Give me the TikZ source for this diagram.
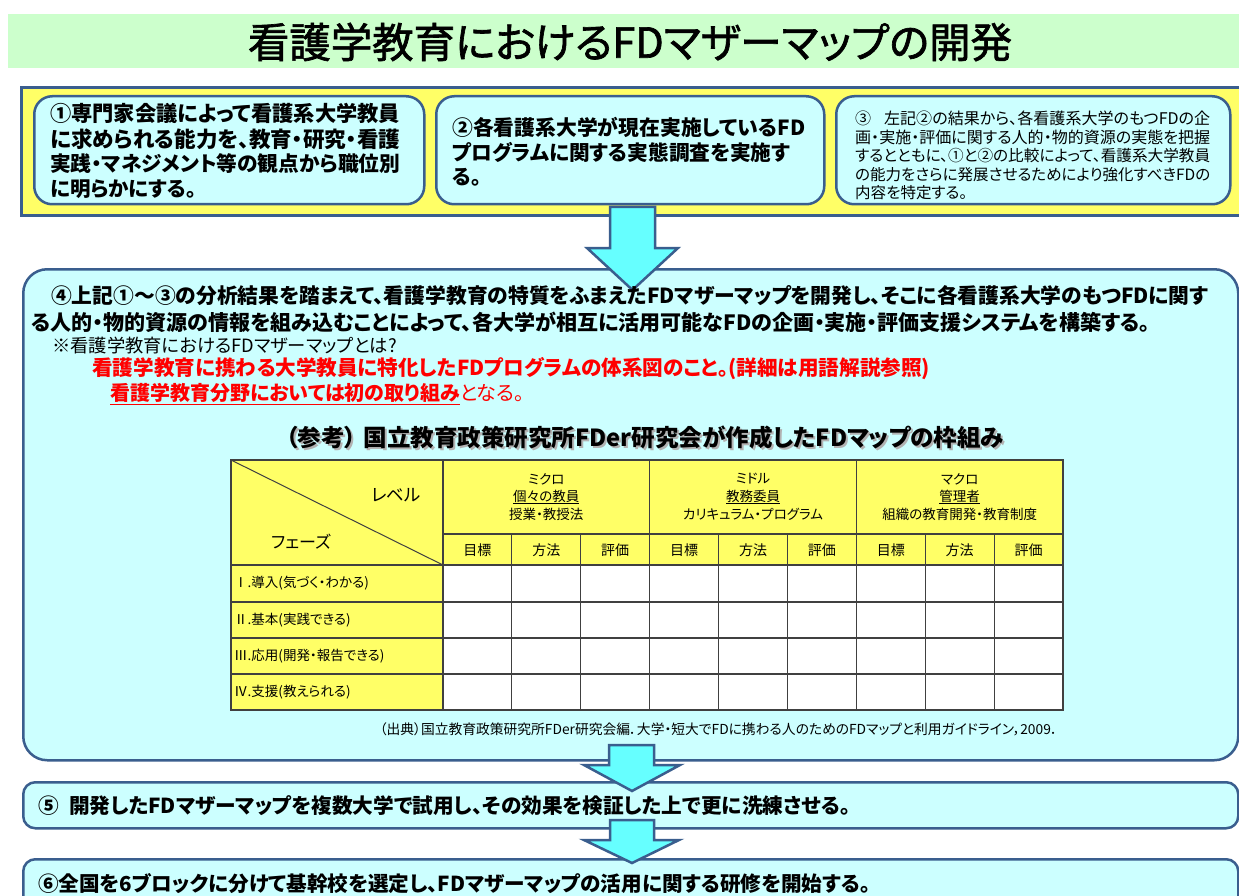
\documentclass[tikz,border=0pt]{standalone}
\usepackage{graphicx}
\usepackage{fontspec}
\setmainfont{Noto Sans CJK JP}[RawFeature=+palt]
\newfontfamily\ttlfont{Noto Sans CJK JP}[RawFeature=+palt, FakeBold=1.6]
\definecolor{bannerg}{HTML}{CCFFCC}
\definecolor{yel}{HTML}{FFFF66}
\definecolor{boxc}{HTML}{CCFFFF}
\definecolor{arrc}{HTML}{66FFFF}
\definecolor{bord}{HTML}{3A5E8E}
\definecolor{gridc}{HTML}{404040}
\definecolor{redt}{HTML}{FF0000}
\newcommand\fitto[2]{\resizebox{#1pt}{!}{#2}}
\tikzset{
  jb/.style={draw=bord, line width=2.5pt, fill=boxc, anchor=north west, inner sep=0pt},
  barrow/.style={draw=bord, line width=2.5pt, fill=arrc, line join=miter},
  ln/.style={anchor=west, inner sep=0pt},
  bigb/.style={ln, font=\fontsize{20.5pt}{25pt}\selectfont\bfseries},
  smr/.style={ln, font=\fontsize{15.5pt}{18pt}\selectfont},
  tabt/.style={inner sep=0pt, font=\fontsize{13.5pt}{16pt}\selectfont},
  gridl/.style={draw=gridc, line width=1.2pt},
}
\begin{document}
\begin{tikzpicture}[x=1pt,y=-1pt]
\useasboundingbox (0,0) rectangle (1239,896);
\clip (0,0) rectangle (1239,896);
\fill[white] (0,0) rectangle (1239,896);

% title banner
\node[fill=bannerg, anchor=north west, inner sep=0pt, minimum width=1240pt, minimum height=54pt] (banner) at (8,14) {};
\node[inner sep=0pt, font=\ttlfont\fontsize{40pt}{44pt}\selectfont] (title) at (630,42) {\fitto{764}{看護学教育におけるFDマザーマップの開発}};

% yellow band with three boxes
\node[draw=bord, line width=3pt, fill=yel, anchor=north west, inner sep=0pt, minimum width=1240pt, minimum height=128pt] (ybox) at (20,86) {};
\node[jb, rounded corners=18pt, minimum width=390pt, minimum height=108pt] (b1) at (33,95) {};
\node[jb, rounded corners=18pt, minimum width=388pt, minimum height=108pt] (b2) at (435,95) {};
\node[jb, rounded corners=18pt, minimum width=394pt, minimum height=108pt] (b3) at (835,95) {};

% big box 4
\node[jb, rounded corners=24pt, minimum width=1215pt, minimum height=491pt] (b4) at (22,268) {};
% arrow 1
\draw[barrow] (610,207) -- (655,207) -- (655,248) -- (678,248) -- (632.5,290) -- (587,248) -- (610,248) -- cycle;

% box 5 and arrow 2
\node[jb, rounded corners=12pt, minimum width=1215pt, minimum height=46pt] (b5) at (22,781) {};
\draw[barrow] (609,745) -- (654,745) -- (654,765) -- (680,765) -- (632,791) -- (584,765) -- (609,765) -- cycle;

% box 6 and arrow 3
\node[jb, rounded corners=12pt, minimum width=1215pt, minimum height=70pt] (b6) at (22,858) {};
\draw[barrow] (610,820) -- (654,820) -- (654,840) -- (679,840) -- (632,863) -- (584,840) -- (610,840) -- cycle;

% box 1 text
\node[bigb] (t1a) at (50,113) {\fitto{350}{①専門家会議によって看護系大学教員}};
\node[bigb] (t1b) at (50,139) {\fitto{350}{に求められる能力を、教育・研究・看護}};
\node[bigb] (t1c) at (50,164) {\fitto{350}{実践・マネジメント等の観点から職位別}};
\node[bigb] (t1d) at (50,189) {に明らかにする。};

% box 2 text
\node[bigb] (t2a) at (452,127) {\fitto{353}{②各看護系大学が現在実施しているFD}};
\node[bigb] (t2b) at (452,152) {\fitto{338}{プログラムに関する実態調査を実施す}};
\node[bigb] (t2c) at (452,177) {る。};

% box 3 text
\node[smr] (t3a) at (855,118) {\fitto{355}{③\hspace{0.8em}左記②の結果から、各看護系大学のもつFDの企}};
\node[smr] (t3b) at (855,137) {\fitto{355}{画・実施・評価に関する人的・物的資源の実態を把握}};
\node[smr] (t3c) at (855,156) {\fitto{355}{するとともに、①と②の比較によって、看護系大学教員}};
\node[smr] (t3d) at (855,175) {\fitto{355}{の能力をさらに発展させるためにより強化すべきFDの}};
\node[smr] (t3e) at (855,193) {内容を特定する。};

% box 4 text
\node[bigb] (t4a) at (51,296) {\fitto{1157}{④上記①～③の分析結果を踏まえて、看護学教育の特質をふまえたFDマザーマップを開発し、そこに各看護系大学のもつFDに関す}};
\node[bigb] (t4b) at (31,322) {\fitto{1119}{る人的・物的資源の情報を組み込むことによって、各大学が相互に活用可能なFDの企画・実施・評価支援システムを構築する。}};
\node[ln, font=\fontsize{18.3pt}{21pt}\selectfont] (t4c) at (52,346) {※看護学教育におけるFDマザーマップとは?};
\node[bigb, text=redt] (t4d) at (92,369) {\fitto{838}{看護学教育に携わる大学教員に特化したFDプログラムの体系図のこと。(詳細は用語解説参照)}};
\node[ln, text=redt, font=\fontsize{20pt}{24pt}\selectfont] (t4e) at (110,394) {\underline{\bfseries 看護学教育分野においては初の取り組み}となる。};

% heading with shadow
\node[inner sep=0pt, text=black!30, font=\fontsize{21pt}{24pt}\selectfont\bfseries] (hds) at (647,439) {\fitto{718}{（参考）\hspace{0.3em}国立教育政策研究所FDer研究会が作成したFDマップの枠組み}};
\node[inner sep=0pt, font=\fontsize{21pt}{24pt}\selectfont\bfseries] (hd) at (645,437) {\fitto{718}{（参考）\hspace{0.3em}国立教育政策研究所FDer研究会が作成したFDマップの枠組み}};

% table
\fill[yel] (231,460) rectangle (1063,565);
\fill[yel] (231,565) rectangle (443,710);
\fill[white] (443,565) rectangle (1063,710);
\draw[gridl] (231,460) rectangle (1063,710);
\draw[gridl] (443,460) -- (443,710);
\draw[gridl] (443,534) -- (1063,534);
\draw[gridl] (231,565) -- (1063,565);
\foreach \yy in {602,638,674} \draw[gridl] (231,\yy) -- (1063,\yy);
\foreach \k in {3,6} \draw[gridl] ({443+68.89*\k},460) -- ({443+68.89*\k},710);
\foreach \k in {1,2,4,5,7,8} \draw[gridl] ({443+68.89*\k},534) -- ({443+68.89*\k},710);
\draw[draw=gridc, line width=1pt] (231,460) -- (443,565);

\node[inner sep=0pt, font=\fontsize{17.5pt}{20pt}\selectfont] (lev) at (396,495) {レベル};
\node[inner sep=0pt, font=\fontsize{17pt}{20pt}\selectfont] (pha) at (301,542) {フェーズ};

\node[tabt] (g1a) at (546.3,479) {ミクロ};
\node[tabt] (g1b) at (546.3,497) {\underline{個々の教員}};
\node[tabt] (g1c) at (546.3,514) {授業・教授法};
\node[tabt] (g2a) at (753,479) {ミドル};
\node[tabt] (g2b) at (753,497) {\underline{教務委員}};
\node[tabt] (g2c) at (753,514) {カリキュラム・プログラム};
\node[tabt] (g3a) at (959.7,479) {マクロ};
\node[tabt] (g3b) at (959.7,497) {\underline{管理者}};
\node[tabt] (g3c) at (959.7,514) {組織の教育開発・教育制度};

\foreach \k/\t in {0/目標,1/方法,2/評価,3/目標,4/方法,5/評価,6/目標,7/方法,8/評価}
  \node[tabt, font=\fontsize{14pt}{16pt}\selectfont] (sh\k) at ({443+68.89*(\k+0.5)},550) {\t};

\node[tabt, anchor=west] (r1) at (234,583) {Ⅰ.導入(気づく・わかる)};
\node[tabt, anchor=west] (r2) at (234,620) {Ⅱ.基本(実践できる)};
\node[tabt, anchor=west] (r3) at (234,656) {Ⅲ.応用(開発・報告できる)};
\node[tabt, anchor=west] (r4) at (234,692) {Ⅳ.支援(教えられる)};

\node[inner sep=0pt, anchor=east, font=\fontsize{13pt}{15pt}\selectfont] (cite) at (1058,729) {\fitto{678}{（出典）国立教育政策研究所FDer研究会編．大学・短大でFDに携わる人のためのFDマップと利用ガイドライン，2009．}};

% box 5, 6 text
\node[bigb] (t5) at (38,806) {\fitto{812}{⑤\hspace{0.5em}開発したFDマザーマップを複数大学で試用し、その効果を検証した上で更に洗練させる。}};
\node[bigb] (t6) at (38,884) {\fitto{832}{⑥全国を6ブロックに分けて基幹校を選定し、FDマザーマップの活用に関する研修を開始する。}};
\end{tikzpicture}
\end{document}
